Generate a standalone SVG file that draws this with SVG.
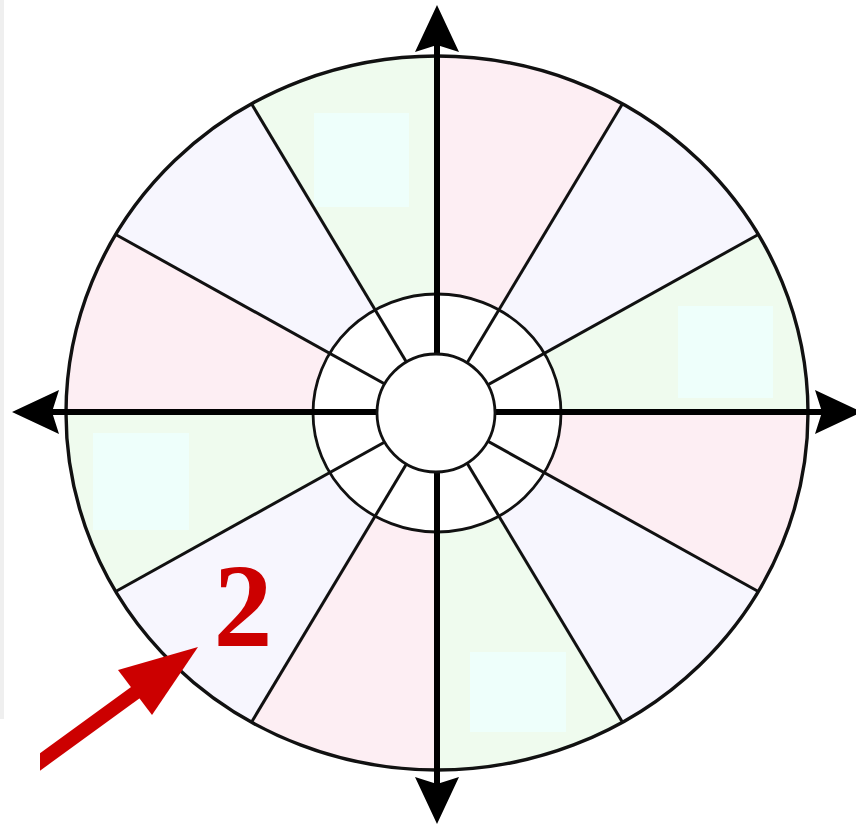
<svg xmlns="http://www.w3.org/2000/svg" width="856" height="825" viewBox="0 0 856 825">
<style>
.pink{fill:#fdeef3}
.lav{fill:#f7f6fe}
.grn{fill:#effbee}
.box{fill:#eefffb}
.ln{stroke:#111;fill:none}
.spoke{stroke:#111;stroke-width:3}
.axis{stroke:#000;stroke-width:6}
</style>
<defs>
<marker id="ah" markerUnits="userSpaceOnUse" viewBox="-10 -25 55 50" markerWidth="55" markerHeight="50" refX="0" refY="0" orient="auto-start-reverse">
<path d="M40,0 L-7,-22 L0,0 L-7,22 Z" fill="#000"/>
</marker>
</defs>
<rect width="856" height="825" fill="#fff"/>
<rect x="0" y="0" width="4" height="719" fill="#efefef"/>
<g id="sectors">
<path class="pink" d="M437,413 L437,56 A371,357 0 0 1 622.5,103.8 Z"/>
<path class="lav" d="M437,413 L622.5,103.8 A371,357 0 0 1 758.3,234.5 Z"/>
<path class="grn" d="M437,413 L758.3,234.5 A371,357 0 0 1 808,413 Z"/>
<path class="pink" d="M437,413 L808,413 A371,357 0 0 1 758.3,591.5 Z"/>
<path class="lav" d="M437,413 L758.3,591.5 A371,357 0 0 1 622.5,722.2 Z"/>
<path class="grn" d="M437,413 L622.5,722.2 A371,357 0 0 1 437,770 Z"/>
<path class="pink" d="M437,413 L437,770 A371,357 0 0 1 251.5,722.2 Z"/>
<path class="lav" d="M437,413 L251.5,722.2 A371,357 0 0 1 115.7,591.5 Z"/>
<path class="grn" d="M437,413 L115.7,591.5 A371,357 0 0 1 66,413 Z"/>
<path class="pink" d="M437,413 L66,413 A371,357 0 0 1 115.7,234.5 Z"/>
<path class="lav" d="M437,413 L115.7,234.5 A371,357 0 0 1 251.5,103.8 Z"/>
<path class="grn" d="M437,413 L251.5,103.8 A371,357 0 0 1 437,56 Z"/>
</g>
<g id="label-boxes">
<rect class="box" x="314" y="113" width="95" height="94"/>
<rect class="box" x="678" y="306" width="95" height="92"/>
<rect class="box" x="93" y="433" width="96" height="97"/>
<rect class="box" x="470" y="652" width="96" height="80"/>
</g>
<g id="outer-ring">
<ellipse class="ln" cx="437" cy="413" rx="371" ry="357" stroke-width="3.4"/>
</g>
<g id="middle-ring">
<ellipse cx="437" cy="413" rx="124" ry="119" fill="#fff" stroke="#111" stroke-width="2.8"/>
</g>
<g id="connectors">
<line class="spoke" x1="437" y1="413" x2="622.5" y2="103.8"/>
<line class="spoke" x1="437" y1="413" x2="758.3" y2="234.5"/>
<line class="spoke" x1="437" y1="413" x2="758.3" y2="591.5"/>
<line class="spoke" x1="437" y1="413" x2="622.5" y2="722.2"/>
<line class="spoke" x1="437" y1="413" x2="251.5" y2="722.2"/>
<line class="spoke" x1="437" y1="413" x2="115.7" y2="591.5"/>
<line class="spoke" x1="437" y1="413" x2="115.7" y2="234.5"/>
<line class="spoke" x1="437" y1="413" x2="251.5" y2="103.8"/>
<line class="axis" x1="437" y1="45" x2="437" y2="784" marker-start="url(#ah)" marker-end="url(#ah)"/>
<line class="axis" x1="52" y1="412" x2="822" y2="412" marker-start="url(#ah)" marker-end="url(#ah)"/>
</g>
<g id="center">
<circle cx="436" cy="413" r="59" fill="#fff" stroke="#111" stroke-width="2.8"/>
</g>
<g id="annotation">
<polygon points="40,753.3 40,770.7 144.1,694.9 135.9,683.5" fill="#cc0000"/>
<polygon points="198,647 118,670 152,715" fill="#cc0000"/>
<text x="243" y="646" font-family="'Liberation Serif', serif" font-weight="bold" font-size="118" fill="#cc0000" text-anchor="middle">2</text>
</g>
</svg>
